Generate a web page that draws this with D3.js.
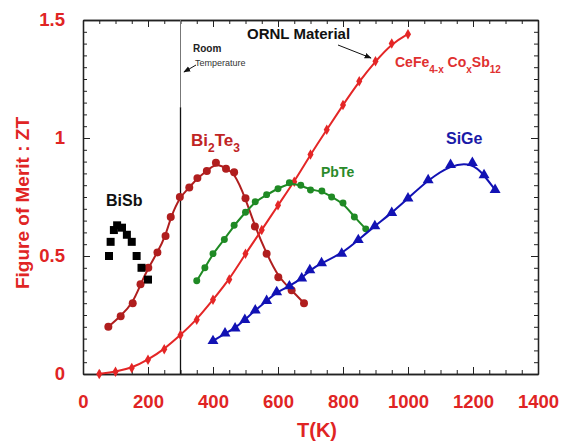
<!DOCTYPE html>
<html>
<head>
<meta charset="utf-8">
<script src="https://cdn.jsdelivr.net/npm/d3@7"></script>
<style>
  body { margin: 0; background: #fff; }
  text { font-family: "Liberation Sans", Arial, sans-serif; }
</style>
</head>
<body>
<svg id="chart" width="563" height="446"></svg>
<script>
// data
var bisbT  = [80, 85, 95, 105, 120, 135, 150, 165, 180, 200];
var bisbZT = [0.50, 0.56, 0.61, 0.63, 0.62, 0.59, 0.56, 0.50, 0.45, 0.40];

var biteT  = [78, 116, 153, 177, 201, 229, 254, 270, 298, 327, 352, 381, 409, 440, 465, 500, 529, 565, 601, 642, 680];
var biteZT = [0.20, 0.245, 0.30, 0.38, 0.45, 0.515, 0.585, 0.665, 0.75, 0.79, 0.83, 0.86, 0.895, 0.87, 0.855, 0.745, 0.625, 0.51, 0.41, 0.355, 0.30];

var ceT  = [50, 100, 150, 200, 250, 300, 350, 400, 450, 500, 550, 600, 650, 700, 750, 800, 850, 900, 950, 1000];
var ceZT = [0.0, 0.01, 0.025, 0.06, 0.105, 0.165, 0.23, 0.315, 0.40, 0.51, 0.61, 0.715, 0.815, 0.93, 1.035, 1.14, 1.24, 1.325, 1.40, 1.44];

var pbteT  = [350, 375, 400, 435, 465, 500, 530, 565, 600, 635, 670, 700, 735, 765, 800, 835, 870];
var pbteZT = [0.395, 0.45, 0.51, 0.57, 0.63, 0.685, 0.73, 0.76, 0.785, 0.81, 0.80, 0.78, 0.775, 0.75, 0.725, 0.665, 0.615];

var sigeT  = [400, 437, 468, 498, 530, 565, 596, 635, 673, 698, 734, 796, 847, 898, 950, 1000, 1062, 1131, 1198, 1234, 1268];
var sigeZT = [0.14, 0.172, 0.194, 0.23, 0.27, 0.31, 0.347, 0.372, 0.405, 0.44, 0.47, 0.51, 0.568, 0.627, 0.683, 0.744, 0.822, 0.886, 0.895, 0.843, 0.78];

var xTicks = [0, 200, 400, 600, 800, 1000, 1200, 1400];
var yTicks = [0, 0.5, 1, 1.5];
var roomT = 300;

var svg = d3.select('#chart');
var margin = { top: 20, left: 83, bottom: 72, right: 25 };
var width = 563, height = 446;

var x = d3.scaleLinear().domain([0, 1400]).range([margin.left, width - margin.right]);
var y = d3.scaleLinear().domain([0, 1.5]).range([height - margin.bottom, margin.top]);

function zip(a, b) {
    return a.map(function (v, i) { return [v, b[i]]; });
}

// minor and major ticks on all four sides, pointing inward
var minorX = d3.range(0, 1401, 50), minorY = d3.range(0, 1.501, 0.05);
function ticks(axis, pos, vals, size) {
    var g = svg.append("g")
        .attr("transform", "translate(" + pos + ")")
        .call(axis.tickValues(vals).tickSize(-size).tickSizeOuter(0).tickFormat(""));
    g.selectAll("line").attr("stroke", "#222");
    g.select(".domain").attr("stroke", "#222").attr("stroke-width", 1.3);
    return g;
}
ticks(d3.axisBottom(x), [0, y(0)], minorX, 4);
ticks(d3.axisTop(x), [0, y(1.5)], minorX, 4);
ticks(d3.axisLeft(y), [x(0), 0], minorY, 4);
ticks(d3.axisRight(y), [x(1400), 0], minorY, 4);
ticks(d3.axisBottom(x), [0, y(0)], xTicks, 7);
ticks(d3.axisTop(x), [0, y(1.5)], xTicks, 7);
ticks(d3.axisLeft(y), [x(0), 0], yTicks, 7);
ticks(d3.axisRight(y), [x(1400), 0], yTicks, 7);

// tick labels
var xLab = svg.append("g")
    .attr("transform", "translate(0," + y(0) + ")")
    .call(d3.axisBottom(x).tickValues(xTicks).tickSize(0).tickPadding(21).tickFormat(d3.format("d")));
xLab.select(".domain").remove();
xLab.selectAll("text").attr("fill", "#e02424").attr("font-size", 18.5).attr("font-weight", "bold")
    .style("font-family", "Liberation Sans, Arial, sans-serif");

var yLab = svg.append("g")
    .attr("transform", "translate(" + x(0) + ",0)")
    .call(d3.axisLeft(y).tickValues(yTicks).tickSize(0).tickPadding(18).tickFormat(function (d) { return d; }));
yLab.select(".domain").remove();
yLab.selectAll("text").attr("fill", "#e02424").attr("font-size", 18.5).attr("font-weight", "bold")
    .style("font-family", "Liberation Sans, Arial, sans-serif");

// axis titles
svg.append("text")
    .attr("x", 317).attr("y", 437)
    .attr("text-anchor", "middle")
    .attr("font-size", 20).attr("font-weight", "bold").attr("fill", "#e02424")
    .text("T(K)");

svg.append("text")
    .attr("transform", "translate(29," + 203 + ") rotate(-90)")
    .attr("text-anchor", "middle")
    .attr("font-size", 19).attr("font-weight", "bold").attr("fill", "#e02424")
    .text("Figure of Merit : ZT");

// room temperature line
svg.append("line")
    .attr("x1", x(roomT)).attr("x2", x(roomT))
    .attr("y1", y(1.5)).attr("y2", y(1.13))
    .attr("stroke", "#777").attr("stroke-width", 1);
svg.append("line")
    .attr("x1", x(roomT)).attr("x2", x(roomT))
    .attr("y1", y(1.13)).attr("y2", y(0))
    .attr("stroke", "#111").attr("stroke-width", 1.3);

svg.append("defs").append("marker")
    .attr("id", "arr").attr("viewBox", "0 0 10 10")
    .attr("refX", 9).attr("refY", 5)
    .attr("markerWidth", 7).attr("markerHeight", 7)
    .attr("orient", "auto")
    .append("path").attr("d", "M0,1 L10,5 L0,9 z").attr("fill", "#111");

svg.append("text").attr("x", 193).attr("y", 52)
    .attr("font-size", 10).attr("font-weight", "bold").attr("fill", "#222").text("Room");
svg.append("text").attr("x", 195).attr("y", 66)
    .attr("font-size", 9).attr("fill", "#333").text("Temperature");
svg.append("line")
    .attr("x1", 196).attr("y1", 65).attr("x2", 184).attr("y2", 72)
    .attr("stroke", "#111").attr("stroke-width", 1).attr("marker-end", "url(#arr)");

// smooth fitted curves through the points
var line = d3.line()
    .x(function (d) { return x(d[0]); })
    .y(function (d) { return y(d[1]); })
    .curve(d3.curveBasis);

function series(T, ZT, color, sym, size, drawLine) {
    var data = zip(T, ZT);
    if (drawLine) {
        svg.append("path").datum(data)
            .attr("d", line)
            .attr("fill", "none")
            .attr("stroke", color)
            .attr("stroke-width", 2);
    }
    svg.append("g").selectAll("path")
        .data(data)
        .enter().append("path")
        .attr("transform", function (d) { return "translate(" + x(d[0]) + "," + y(d[1]) + ")"; })
        .attr("d", d3.symbol().type(sym).size(size))
        .attr("fill", color);
}

series(biteT, biteZT, "#b01e1e", d3.symbolCircle, 50, true);
series(ceT, ceZT, "#e42626", d3.symbolDiamond, 32, true);
series(pbteT, pbteZT, "#1f8a24", d3.symbolCircle, 38, true);
series(sigeT, sigeZT, "#1212b4", d3.symbolTriangle, 52, true);
series(bisbT, bisbZT, "#000", d3.symbolSquare, 64, false);

// labels
svg.append("text").attr("x", 106).attr("y", 206)
    .attr("font-size", 16).attr("font-weight", "bold").attr("fill", "#111").text("BiSb");

var bl = svg.append("text").attr("x", 191).attr("y", 146)
    .attr("font-size", 17).attr("font-weight", "bold").attr("fill", "#c02424");
bl.append("tspan").text("Bi");
bl.append("tspan").attr("dy", 6).attr("font-size", 12).text("2");
bl.append("tspan").attr("dy", -6).text("Te");
bl.append("tspan").attr("dy", 6).attr("font-size", 12).text("3");

svg.append("text").attr("x", 321).attr("y", 177)
    .attr("font-size", 14).attr("font-weight", "bold").attr("fill", "#2a8a2a").text("PbTe");

svg.append("text").attr("x", 446).attr("y", 144)
    .attr("font-size", 16).attr("font-weight", "bold").attr("fill", "#1a1aa8").text("SiGe");

var cl = svg.append("text").attr("x", 395).attr("y", 67)
    .attr("font-size", 14).attr("font-weight", "bold").attr("fill", "#e03030");
cl.append("tspan").text("CeFe");
cl.append("tspan").attr("dy", 6).attr("font-size", 10).text("4-x");
cl.append("tspan").attr("dy", -6).text(" Co");
cl.append("tspan").attr("dy", 6).attr("font-size", 10).text("x");
cl.append("tspan").attr("dy", -6).text("Sb");
cl.append("tspan").attr("dy", 6).attr("font-size", 10).text("12");

svg.append("text").attr("x", 247).attr("y", 39)
    .attr("font-size", 15).attr("font-weight", "bold").attr("fill", "#111").text("ORNL Material");
svg.append("line")
    .attr("x1", 338).attr("y1", 45).attr("x2", 371).attr("y2", 58)
    .attr("stroke", "#111").attr("stroke-width", 1).attr("marker-end", "url(#arr)");
</script>
</body>
</html>
